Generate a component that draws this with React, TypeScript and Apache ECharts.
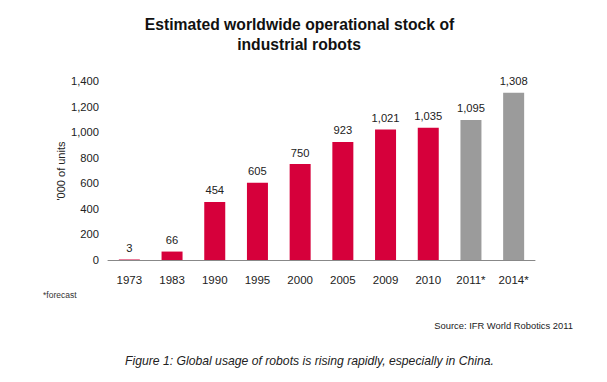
import React, { useEffect, useRef } from "react";
import * as echarts from "echarts";

const categories = ["1973", "1983", "1990", "1995", "2000", "2005", "2009", "2010", "2011*", "2014*"];
const values = [3, 66, 454, 605, 750, 923, 1021, 1035, 1095, 1308];
const forecast = [false, false, false, false, false, false, false, false, true, true];
const yTicks = [0, 200, 400, 600, 800, 1000, 1200, 1400];

const RED = "#d6003b";
const GRAY = "#9b9b9b";
const FONT = "'Liberation Sans', Arial, sans-serif";

export default function App() {
  const ref = useRef<HTMLDivElement>(null);
  useEffect(() => {
    const chart = echarts.init(ref.current!, null, { renderer: "svg" });
    const fmt = (v: number) => v.toLocaleString("en-US");
    const txt = (text: string, x: number, y: number, size: number, align: string, extra: any = {}) => ({
      type: "text",
      x,
      y,
      style: {
        text,
        fontFamily: FONT,
        fontSize: size,
        fill: "#222",
        textAlign: align,
        textVerticalAlign: "middle",
        verticalAlign: "middle",
        ...extra,
      },
    });
    chart.setOption({
      animation: false,
      backgroundColor: "#ffffff",
      grid: { left: 108, right: 72, top: 81, bottom: 122 },
      xAxis: {
        type: "category",
        data: categories,
        axisLine: { show: true, lineStyle: { color: "#888", width: 1 } },
        axisTick: { show: false },
        axisLabel: { interval: 0, fontFamily: FONT, fontSize: 11.5, color: "#222", margin: 14 },
      },
      yAxis: {
        type: "value",
        min: 0,
        max: 1400,
        interval: 200,
        axisLine: { show: false },
        axisTick: { show: false },
        splitLine: { show: false },
        axisLabel: {
          fontFamily: FONT,
          fontSize: 11.2,
          color: "#222",
          margin: 9,
          formatter: (v: number) => (yTicks.includes(v) ? fmt(v) : ""),
        },
      },
      series: [
        {
          type: "bar",
          barWidth: 21,
          data: values.map((v, i) => ({
            value: v,
            itemStyle: { color: forecast[i] ? GRAY : RED },
          })),
          label: {
            show: true,
            position: "top",
            distance: 6,
            fontFamily: FONT,
            fontSize: 11.2,
            color: "#222",
            formatter: (p: any) => fmt(p.value),
          },
        },
      ],
      graphic: [
        txt("Estimated worldwide operational stock of", 299.5, 24, 15.7, "center", { fontWeight: "bold", fill: "#111" }),
        txt("industrial robots", 299, 44, 15.7, "center", { fontWeight: "bold", fill: "#111" }),
        { ...txt("'000 of units", 60.5, 171, 11, "center"), rotation: Math.PI / 2 },
        txt("*forecast", 43, 295, 8.5, "left", { fill: "#333" }),
        txt("Source: IFR World Robotics 2011", 573, 325, 9.4, "right"),
        txt("Figure 1: Global usage of robots is rising rapidly, especially in China.", 125, 361, 12.2, "left", {
          fontStyle: "italic",
        }),
      ],
    });
    return () => chart.dispose();
  }, []);
  return <div ref={ref} style={{ position: "absolute", left: 0, top: 0, width: 607, height: 382 }} />;
}
